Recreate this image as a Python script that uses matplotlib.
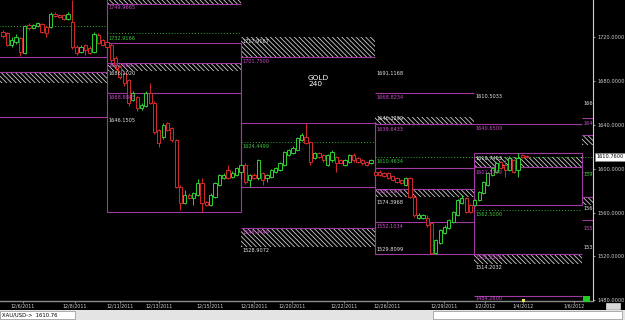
import matplotlib
matplotlib.use('Agg')
import matplotlib.pyplot as plt
from matplotlib.patches import Rectangle
import numpy as np

plt.rcParams['hatch.linewidth'] = 0.55

# ---------------- candle data (4h bars) ----------------
opens = [1724.6, 1723.7, 1712.8, 1715.5, 1719.1, 1705.5, 1731.0, 1728.3, 1730.1, 1731.9, 1729.2, 1729.2,
         1741.0, 1740.1, 1740.1, 1736.5, 1733.7, 1710.9, 1706.4, 1712.8, 1710.0, 1706.4, 1721.9, 1717.3,
         # 12/11
         1715.5, 1712.8, 1700.9, 1692.7, 1687.2, 1680.8, 1662.6, 1665.3, 1655.3, 1657.1, 1669.0, 1659.9,
         1635.2, 1628.8, 1641.6, 1637.1, 1626.1, 1583.3, 1568.7, 1576.0, 1573.2, 1576.0, 1586.9, 1569.6,
         1566.8, 1574.1, 1585.1, 1591.5, 1598.8, 1592.4, 1594.2,
         # 12/18
         1596.9, 1603.3, 1589.6, 1594.2, 1591.5, 1596.0, 1591.5, 1592.4, 1596.9, 1598.8, 1603.3, 1612.4,
         1614.3, 1617.0, 1626.1, 1628.8, 1624.3, 1609.7, 1614.3, 1612.4, 1603.3, 1607.9, 1610.6, 1607.9,
         1603.3, 1606.1, 1612.4, 1609.7, 1607.9, 1606.1, 1605.1,
         # 12/26
         1596.9, 1596.9, 1596.0, 1596.0, 1593.3, 1591.5, 1589.6, 1585.1, 1591.5, 1574.1, 1555.0, 1555.0,
         1555.0, 1550.4, 1523.1, 1532.2, 1541.3, 1545.9, 1551.3, 1557.7, 1568.7, 1573.2, 1566.8,
         # 1/2
         1566.8, 1571.4, 1577.8, 1585.1, 1594.2, 1596.9, 1606.1, 1603.3, 1598.8, 1607.9, 1598.8, 1612.4,
         1611.5]
highs = [1726.4, 1724.6, 1720.1, 1722.8, 1720.1, 1731.0, 1732.8, 1731.9, 1733.7, 1732.8, 1730.1, 1742.9,
         1742.9, 1741.0, 1741.0, 1742.9, 1753.8, 1712.8, 1712.8, 1713.7, 1711.8, 1724.6, 1723.7, 1718.2,
         1716.4, 1714.6, 1702.7, 1694.5, 1688.1, 1681.7, 1670.8, 1666.2, 1659.9, 1670.8, 1678.1, 1661.7,
         1636.1, 1641.6, 1642.5, 1637.9, 1627.0, 1585.1, 1580.5, 1577.8, 1578.7, 1590.5, 1591.5, 1570.5,
         1577.8, 1587.8, 1595.1, 1596.0, 1603.3, 1597.9, 1601.5,
         1604.2, 1605.1, 1595.1, 1596.0, 1608.8, 1597.0, 1595.1, 1599.7, 1601.5, 1606.1, 1616.1, 1617.9,
         1620.6, 1628.8, 1632.5, 1641.6, 1625.2, 1615.2, 1615.2, 1613.4, 1613.4, 1617.0, 1611.5, 1608.8,
         1608.8, 1613.4, 1614.3, 1610.6, 1608.8, 1607.0, 1608.8,
         1597.9, 1598.8, 1596.9, 1596.9, 1594.2, 1592.4, 1590.5, 1592.4, 1592.4, 1576.0, 1559.5, 1558.6,
         1557.7, 1551.3, 1535.8, 1545.0, 1548.6, 1554.1, 1561.3, 1572.3, 1576.0, 1574.1, 1567.7,
         1572.3, 1579.6, 1588.7, 1596.9, 1601.5, 1606.1, 1607.0, 1607.9, 1611.5, 1608.8, 1614.3, 1613.4,
         1612.4]
lows = [1719.1, 1711.8, 1710.9, 1713.7, 1702.7, 1704.6, 1726.4, 1727.4, 1729.2, 1723.7, 1720.1, 1728.3,
        1738.3, 1737.4, 1735.6, 1735.6, 1709.1, 1703.6, 1705.5, 1703.6, 1704.6, 1705.5, 1713.7, 1711.8,
        1709.1, 1696.3, 1690.0, 1681.7, 1675.4, 1657.1, 1661.7, 1652.6, 1653.5, 1656.2, 1659.0, 1631.6,
        1619.7, 1627.0, 1634.3, 1624.3, 1582.4, 1562.3, 1567.8, 1572.3, 1566.8, 1575.1, 1560.4, 1565.9,
        1565.9, 1573.2, 1584.2, 1590.5, 1590.5, 1591.5, 1593.3,
        1590.5, 1586.0, 1583.3, 1590.5, 1589.6, 1585.1, 1587.8, 1591.5, 1596.0, 1597.9, 1602.4, 1611.5,
        1613.4, 1616.1, 1625.2, 1622.5, 1603.3, 1608.8, 1609.7, 1606.1, 1602.4, 1606.1, 1596.9, 1604.2,
        1602.4, 1605.1, 1606.1, 1605.1, 1603.3, 1602.4, 1604.2,
        1593.3, 1593.3, 1592.4, 1590.5, 1588.7, 1586.9, 1586.0, 1584.2, 1573.2, 1555.9, 1554.1, 1554.1,
        1546.8, 1522.2, 1522.2, 1531.3, 1540.4, 1545.0, 1550.4, 1556.8, 1567.8, 1559.5, 1559.5,
        1565.9, 1570.5, 1576.9, 1584.2, 1593.3, 1596.0, 1599.7, 1592.4, 1597.9, 1596.0, 1592.4, 1609.7,
        1609.7]
closes = [1721.0, 1712.8, 1717.3, 1720.1, 1706.4, 1730.1, 1728.3, 1731.0, 1732.8, 1724.6, 1723.7, 1741.0,
          1739.2, 1738.3, 1736.5, 1741.0, 1710.9, 1705.5, 1710.9, 1708.2, 1705.5, 1722.8, 1714.6, 1712.8,
          1710.9, 1699.1, 1694.5, 1683.6, 1678.1, 1659.9, 1669.0, 1655.3, 1658.0, 1669.0, 1659.9, 1633.4,
          1623.4, 1639.8, 1635.2, 1626.1, 1583.3, 1568.7, 1576.0, 1573.2, 1577.8, 1586.9, 1568.7, 1566.8,
          1576.0, 1586.9, 1594.2, 1594.2, 1591.5, 1596.0, 1600.6,
          1603.3, 1587.8, 1594.2, 1591.5, 1607.9, 1589.6, 1594.2, 1598.8, 1600.6, 1605.1, 1615.2, 1617.0,
          1618.8, 1627.9, 1630.7, 1623.4, 1606.1, 1614.3, 1610.6, 1607.9, 1612.4, 1615.2, 1605.1, 1605.1,
          1607.9, 1612.4, 1607.9, 1606.1, 1605.1, 1603.3, 1607.9,
          1594.2, 1594.2, 1593.3, 1591.5, 1589.6, 1587.8, 1586.9, 1591.5, 1574.1, 1557.7, 1557.7, 1557.7,
          1548.6, 1523.1, 1534.9, 1544.1, 1546.8, 1553.2, 1560.4, 1571.4, 1573.2, 1560.4, 1560.4,
          1571.4, 1578.7, 1587.8, 1596.0, 1600.6, 1605.1, 1600.6, 1598.8, 1609.7, 1596.9, 1609.7, 1610.6,
          1610.8]

# ---------------- session ranges (bar index units) ----------------
box_left = [-2, 24.0, 55.0, 86.0, 108.8]
box_right = [24.0, 55.0, 86.0, 108.8, 133.7]
box_top = [1760.0, 1714.6, 1641.6, 1600.6, 1614.3]
box_bottom = [1701.8, 1560.4, 1583.3, 1522.2, 1566.8]

# solid magenta levels: start, end, price
line_start = [-2, 24.0, 86.0, 86.0, 86.0, 108.8, 133.7, 133.7]
line_end = [24.0, 55.0, 108.8, 133.7, 108.8, 133.7, 140, 140]
line_price = [1647.1, 1669.0, 1669.0, 1640.7, 1551.3, 1483.8, 1646.2, 1553.2]

# hatched zones: start, end, top, bottom, side of magenta edge
zone_start = [-2, 24.0, 24.0, 55.0, 55.0, 86.0, 86.0, 108.8, 108.8, 133.7, 133.7]
zone_end = [24.0, 55.0, 55.0, 86.0, 86.0, 108.8, 108.8, 133.7, 133.7, 140, 140]
zone_top = [1688.1, 1758.0, 1696.3, 1720.1, 1545.9, 1646.9, 1581.4, 1610.6, 1522.2, 1630.7, 1574.1]
zone_bottom = [1678.1, 1749.7, 1689.0, 1701.8, 1528.5, 1640.7, 1574.1, 1601.5, 1513.0, 1621.6, 1566.8]
zone_edge = ['top', 'bottom', 'top', 'bottom', 'top', 'bottom', 'top', 'bottom', 'top', 'top', 'top']

# green dotted levels
dot_start = [-2, 24.0, 55.0, 86.0, 108.8, 133.7]
dot_end = [24.0, 55.0, 86.0, 140, 133.7, 140]
dot_price = [1730.1, 1723.7, 1624.3, 1610.6, 1562.3, 1596.9]

# level labels: x (bar index), price (top of text), text, kind
lab_x = [24.3, 24.3, 24.3, 24.3, 24.3, 24.3,
         55.3, 55.3, 55.3, 55.3, 55.3,
         86.3, 86.3, 86.3, 86.3, 86.3, 86.3, 86.3, 86.3, 86.3,
         109.1, 109.1, 109.1, 109.1, 109.1, 109.1, 109.1, 109.1,
         134.0, 134.0, 134.0, 134.0, 134.0, 134.0]
lab_p = [1748.8, 1721.4, 1695.9, 1688.6, 1667.6, 1646.6,
         1717.8, 1700.0, 1622.9, 1544.5, 1527.2,
         1689.5, 1667.6, 1648.0, 1638.4, 1608.8, 1581.4, 1571.8, 1549.9, 1528.1,
         1668.5, 1639.3, 1611.1, 1599.2, 1560.9, 1521.7, 1512.1, 1484.3,
         1662.1, 1643.0, 1596.5, 1566.3, 1548.1, 1530.8]
lab_text = ['1749.9665', '1732.9166', '1691.6667', '1686.1020', '1668.8845', '1646.1505',
            '1717.9167', '1701.7500', '1624.4499', '1546.4449', '1528.9072',
            '1691.1168', '1668.8234', '1646.3299', '1639.6433', '1610.4634', '1581.2971', '1574.3968',
            '1552.1034', '1529.8099',
            '1610.5033', '1640.6500', '1610.7453', '1601.5149', '1562.5000', '1522.2516', '1514.2032',
            '1484.2600',
            '166', '164', '159', '156', '155', '153']
lab_kind = ['m', 'g', 'm', 'w', 'm', 'w',
            'w', 'm', 'g', 'm', 'w',
            'w', 'm', 'w', 'm', 'g', 'm', 'w', 'm', 'w',
            'w', 'm', 'w', 'm', 'g', 'm', 'w', 'm',
            'w', 'm', 'g', 'w', 'm', 'w']

date_pos = [4.6, 16.6, 27.0, 36.0, 47.8, 58.0, 66.7, 78.8, 88.7, 101.8, 111.3, 120.1, 131.9]
date_labels = ['12/6/2011', '12/8/2011', '12/11/2011', '12/13/2011', '12/15/2011', '12/18/2011',
               '12/20/2011', '12/22/2011', '12/26/2011', '12/29/2011', '1/2/2012', '1/4/2012', '1/6/2012']
price_ticks = [1480, 1520, 1560, 1600, 1640, 1680, 1720]
last_price = 1610.76

# ---------------- styles ----------------
BG = 'black'
PURPLE = '#a03aa0'
MAG_TXT = '#c94fc9'
GREEN = '#2fd02f'
RED = '#d42a2a'
WHITE_TXT = '#e6e6e6'
HATCH = '#dcdcdc'
colmap = {'m': MAG_TXT, 'g': '#3fc63f', 'w': WHITE_TXT}
FS = 3.6

W, H = 625, 320
fig = plt.figure(figsize=(W / 100, H / 100), dpi=100, facecolor=BG)
ax = fig.add_axes([0, (H - 301) / H, 593 / W, 301 / H], facecolor=BG)
ax.set_xlim(-0.69, 136.3)
ax.set_ylim(1479.3, 1753.8)

# boxes
for x0, x1, t, b in zip(box_left, box_right, box_top, box_bottom):
    ax.add_patch(Rectangle((x0, b), x1 - x0, t - b, fill=False, edgecolor=PURPLE, lw=0.8, zorder=2.5))

# hatched zones
for x0, x1, t, b, e in zip(zone_start, zone_end, zone_top, zone_bottom, zone_edge):
    ax.add_patch(Rectangle((x0, b), x1 - x0, t - b, facecolor=BG, edgecolor=HATCH,
                           hatch='\\' * 7, lw=0, zorder=2))
    ye = t if e == 'top' else b
    ax.hlines(ye, x0, x1, colors=PURPLE, lw=0.8, zorder=2.6)

# magenta levels
ax.hlines(line_price, line_start, line_end, colors=PURPLE, lw=0.8, zorder=2.6)

# dotted green levels
for x0, x1, p in zip(dot_start, dot_end, dot_price):
    ax.plot([x0, x1], [p, p], color='#2fb02f', lw=0.7, ls=(0, (1, 2)), zorder=2.6)

# candles
o = np.array(opens); h = np.array(highs); l = np.array(lows); c = np.array(closes)
x = np.arange(len(o))
cols = np.where(c >= o, GREEN, RED)
ax.vlines(x, l, h, colors=cols, lw=0.7, zorder=3)
bot = np.minimum(o, c)
hgt = np.maximum(np.abs(c - o), 0.4)
ax.bar(x, hgt, bottom=bot, width=0.75, facecolor=BG, edgecolor=cols, lw=0.7, zorder=4)

# labels
for lx, lp, lt, lk in zip(lab_x, lab_p, lab_text, lab_kind):
    ax.text(lx, lp, lt, color=colmap[lk], fontsize=FS, va='top', ha='left', zorder=5, clip_on=True)

ax.text(308 / 593, 1 - 75 / 301, 'GOLD\n240', transform=ax.transAxes, color='white',
        fontsize=5.3, va='top', ha='left', linespacing=0.95, zorder=6)

# axes styling
for s in ['top', 'left']:
    ax.spines[s].set_visible(False)
ax.spines['right'].set_color('#d0d0d0')
ax.spines['right'].set_linewidth(0.8)
ax.spines['bottom'].set_color('#8a8a8a')
ax.spines['bottom'].set_linewidth(1.0)
ax.yaxis.tick_right()
ax.set_yticks(price_ticks)
ax.set_yticklabels(['%.4f' % v for v in price_ticks])
ax.tick_params(axis='y', colors='#d0d0d0', labelsize=3.6, length=1.5, width=0.5, pad=1.5)
ax.set_xticks(date_pos)
ax.set_xticklabels(date_labels)
ax.tick_params(axis='x', colors='#d0d0d0', labelsize=3.4, length=1.2, width=0.5, pad=0.8)

# current price marker
ax.text(1.006, last_price, '%.4f' % 1610.7600, transform=ax.get_yaxis_transform(), color='black',
        fontsize=3.6, va='center', ha='left', zorder=7,
        bbox=dict(boxstyle='square,pad=0.25', facecolor='white', edgecolor='#888888', lw=0.4))

# status bar
fig.patches.append(Rectangle((0, 0), 1, 10 / H, transform=fig.transFigure, facecolor='#e4e4e4',
                             edgecolor='none', zorder=0))
fig.patches.append(Rectangle((0, 1 / H), 75 / W, 8 / H, transform=fig.transFigure, facecolor='white',
                             edgecolor='#909090', lw=0.5, zorder=1))
fig.patches.append(Rectangle((433 / W, 1 / H), 189 / W, 8 / H, transform=fig.transFigure,
                             facecolor='white', edgecolor='#909090', lw=0.5, zorder=1))
fig.text(2 / W, 5 / H, 'XAU/USD->  1610.76', color='black', fontsize=3.8, va='center', ha='left')
# small widgets
fig.patches.append(Rectangle((583 / W, 18 / H), 7 / W, 6 / H, transform=fig.transFigure,
                             facecolor='#22cc22', edgecolor='none', zorder=5))
fig.patches.append(Rectangle((522 / W, 18 / H), 3 / W, 3 / H, transform=fig.transFigure,
                             facecolor='#f0e060', edgecolor='none', zorder=5))
fig.patches.append(Rectangle((606 / W, 11 / H), 14 / W, 6 / H, transform=fig.transFigure,
                             facecolor='#d8d8d8', edgecolor='#ffffff', lw=0.4, zorder=5))

fig.savefig('out.png', dpi=100, facecolor=BG)
